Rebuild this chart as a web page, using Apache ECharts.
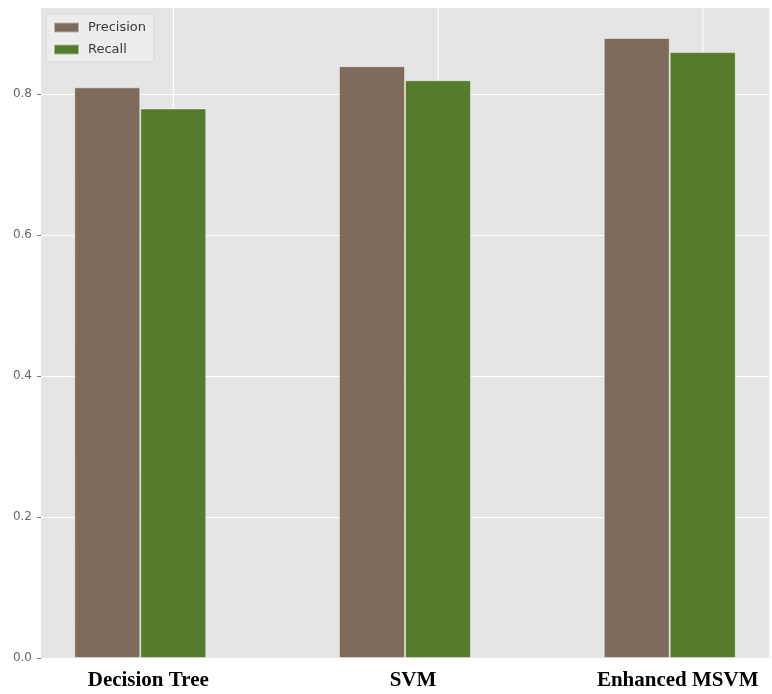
<!DOCTYPE html>
<html>
<head>
<meta charset="utf-8">
<script src="https://cdn.jsdelivr.net/npm/echarts@6/dist/echarts.min.js"></script>
<style>html,body{margin:0;padding:0;background:#fff}#c{width:772px;height:694px}</style>
</head>
<body>
<div id="c"></div>
<script>
const categories = ['Decision Tree', 'SVM', 'Enhanced MSVM'];
const precision = [0.81, 0.84, 0.88];
const recall = [0.78, 0.82, 0.86];
const yTicks = [0.0, 0.2, 0.4, 0.6, 0.8];

const yMax = 0.924;
const groupOffset = -0.125; // group centre relative to the category tick
const chart = echarts.init(document.getElementById('c'));
chart.setOption({
  animation: false,
  backgroundColor: '#ffffff',
  grid: { left: 41, right: 0, top: 7, bottom: 36, show: true, backgroundColor: '#E5E5E5', borderWidth: 0 },
  legend: {
    orient: 'vertical', left: 46, top: 14,
    padding: [7, 8, 6, 7], itemGap: 9,
    itemWidth: 25, itemHeight: 10, icon: 'rect',
    backgroundColor: 'rgba(236,236,236,0.9)', borderColor: '#d6d6d6', borderWidth: 1, borderRadius: 3,
    textStyle: { fontFamily: 'DejaVu Sans', fontSize: 13, color: '#3a3a3a', padding: [0, 0, 0, 4] },
    data: ['Precision', 'Recall']
  },
  xAxis: {
    type: 'value', min: -0.5, max: 2.25, interval: 0.125,
    axisLine: { show: false, onZero: false }, axisTick: { show: false }, splitLine: { show: false },
    axisLabel: {
      margin: 12, fontFamily: 'Liberation Serif', fontWeight: 'bold', fontSize: 21, color: '#000',
      padding: [0, 0, 0, 16], showMinLabel: true, showMaxLabel: true,
      formatter: function (v) {
        const i = Math.round(v - groupOffset);
        if (Math.abs(v - (i + groupOffset)) < 1e-6 && i >= 0 && i < categories.length) return categories[i];
        return '';
      }
    }
  },
  yAxis: {
    type: 'value', min: 0, max: yMax, interval: 0.2,
    axisLine: { show: false, onZero: false },
    axisTick: { show: true, length: 4, lineStyle: { color: '#777' } },
    splitLine: { show: true, lineStyle: { color: '#ffffff', width: 1.2 } },
    axisLabel: {
      margin: 9, fontFamily: 'DejaVu Sans', fontSize: 12, color: '#666',
      showMaxLabel: false,
      formatter: function (v) {
        for (const t of yTicks) if (Math.abs(v - t) < 1e-6) return t.toFixed(1);
        return '';
      }
    }
  },
  series: [
    {
      type: 'custom', z: 1, silent: true,
      data: categories.map((c, i) => [i]),
      renderItem: function (params, api) {
        const x = api.value(0);
        const p0 = api.coord([x, 0]);
        const p1 = api.coord([x, yMax]);
        return { type: 'line', shape: { x1: p0[0], y1: p0[1], x2: p1[0], y2: p1[1] },
                 style: { stroke: '#ffffff', lineWidth: 1.2 } };
      }
    },
    {
      name: 'Precision', type: 'bar', z: 2, barWidth: 66, barGap: '0%',
      itemStyle: { color: '#7E6B5C', borderColor: 'rgba(255,255,255,0.45)', borderWidth: 1 },
      data: precision.map((v, i) => [i + groupOffset, v])
    },
    {
      name: 'Recall', type: 'bar', z: 2, barWidth: 66, barGap: '0%',
      itemStyle: { color: '#547C2C', borderColor: 'rgba(255,255,255,0.45)', borderWidth: 1 },
      data: recall.map((v, i) => [i + groupOffset, v])
    }
  ]
});
</script>
</body>
</html>
